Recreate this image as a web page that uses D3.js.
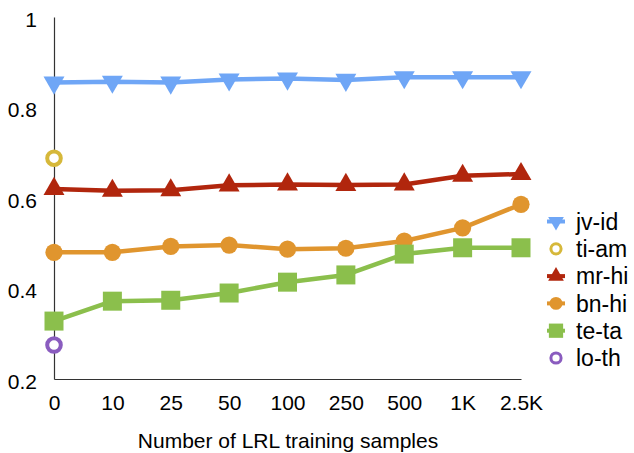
<!DOCTYPE html>
<html><head><meta charset="utf-8">
<script src="https://cdn.jsdelivr.net/npm/d3@7"></script>
<style>body{margin:0;background:#fff}svg{display:block}text{font-family:"Liberation Sans",Arial,sans-serif;fill:#000}</style>
</head><body><svg id="c" width="634" height="453"></svg>
<script>
const categories = ["0","10","25","50","100","250","500","1K","2.5K"];
const yTicks = [0.2,0.4,0.6,0.8,1];
const yTickLabels = ["0.2","0.4","0.6","0.8","1"];
const jvId = [0.855,0.857,0.855,0.862,0.864,0.861,0.867,0.867,0.867];
const tiAm = [0.688];
const mrHi = [0.620,0.616,0.617,0.628,0.630,0.629,0.630,0.649,0.653];
const bnHi = [0.480,0.480,0.493,0.496,0.487,0.489,0.505,0.534,0.586];
const teTa = [0.328,0.372,0.374,0.390,0.414,0.430,0.476,0.490,0.490];
const loTh = [0.275];
const seriesNames = ["jv-id","ti-am","mr-hi","bn-hi","te-ta","lo-th"];

const series = [
  {name:"jv-id", values:jvId, color:"#6fa6f6", shape:"down"},
  {name:"ti-am", values:tiAm, color:"#d6b83a", shape:"ring"},
  {name:"mr-hi", values:mrHi, color:"#b1260d", shape:"up"},
  {name:"bn-hi", values:bnHi, color:"#e0952e", shape:"circle"},
  {name:"te-ta", values:teTa, color:"#8bbf4c", shape:"square"},
  {name:"lo-th", values:loTh, color:"#8a5cbf", shape:"ring"}
];

const svg = d3.select("#c");
const x = d3.scalePoint().domain(categories).range([54,521]);
const y = d3.scaleLinear().domain([0.2,1]).range([379,17]);

// axes
const yAxis = svg.append("g").attr("transform","translate(54,0)")
  .call(d3.axisLeft(y).tickValues(yTicks).tickSize(0).tickPadding(17)
    .tickFormat((d,i)=>yTickLabels[i]));
yAxis.select(".domain").attr("stroke","#333").attr("stroke-width",1.2);
yAxis.selectAll("text").attr("font-size",21).attr("font-family","Liberation Sans, Arial, sans-serif")
  .attr("fill","#000").attr("dy","0.45em");

const xAxis = svg.append("g").attr("transform","translate(0,379)")
  .call(d3.axisBottom(x).tickSize(0).tickPadding(16));
xAxis.select(".domain").attr("stroke","#333").attr("stroke-width",1.2);
xAxis.selectAll("text").attr("font-size",21).attr("font-family","Liberation Sans, Arial, sans-serif").attr("fill","#000");

svg.append("text").attr("x",288).attr("y",447.5).attr("text-anchor","middle")
  .attr("font-size",21).text("Number of LRL training samples");

function drawMarker(g, shape, color, cx, cy, s){
  const sc = s||1;
  if(shape==="down"){
    g.append("path").attr("d",d3.symbol(d3.symbolTriangle, 190*sc*sc)())
      .attr("transform",`translate(${cx},${cy}) rotate(180)`).attr("fill",color);
  } else if(shape==="up"){
    g.append("path").attr("d",d3.symbol(d3.symbolTriangle, 190*sc*sc)())
      .attr("transform",`translate(${cx},${cy})`).attr("fill",color);
  } else if(shape==="circle"){
    g.append("circle").attr("cx",cx).attr("cy",cy).attr("r",8.6*sc).attr("fill",color);
  } else if(shape==="square"){
    const w=19*sc;
    g.append("rect").attr("x",cx-w/2).attr("y",cy-w/2).attr("width",w).attr("height",w).attr("fill",color);
  } else if(shape==="ring"){
    g.append("circle").attr("cx",cx).attr("cy",cy).attr("r",6.8*sc).attr("fill","#fff")
      .attr("stroke",color).attr("stroke-width",4*sc);
  }
}

const line = d3.line().x((d,i)=>x(categories[i])).y(d=>y(d));
series.forEach(s=>{
  const g = svg.append("g");
  if(s.values.length>1){
    g.append("path").datum(s.values).attr("d",line).attr("fill","none")
      .attr("stroke",s.color).attr("stroke-width",4.5).attr("stroke-linejoin","round");
  }
  s.values.forEach((v,i)=>drawMarker(g,s.shape,s.color,x(categories[i]),y(v),1));
});

// legend
const lg = svg.append("g");
series.forEach((s,i)=>{
  const cy = 221.5 + i*27.3;
  if(s.shape!=="ring"){
    lg.append("line").attr("x1",547).attr("x2",565).attr("y1",cy).attr("y2",cy)
      .attr("stroke",s.color).attr("stroke-width",4);
  }
  drawMarker(lg,s.shape,s.color,556,cy,0.75);
  lg.append("text").attr("x",576).attr("y",cy).attr("dy","0.36em")
    .attr("font-size",23).text(seriesNames[i]);
});
</script></body></html>
